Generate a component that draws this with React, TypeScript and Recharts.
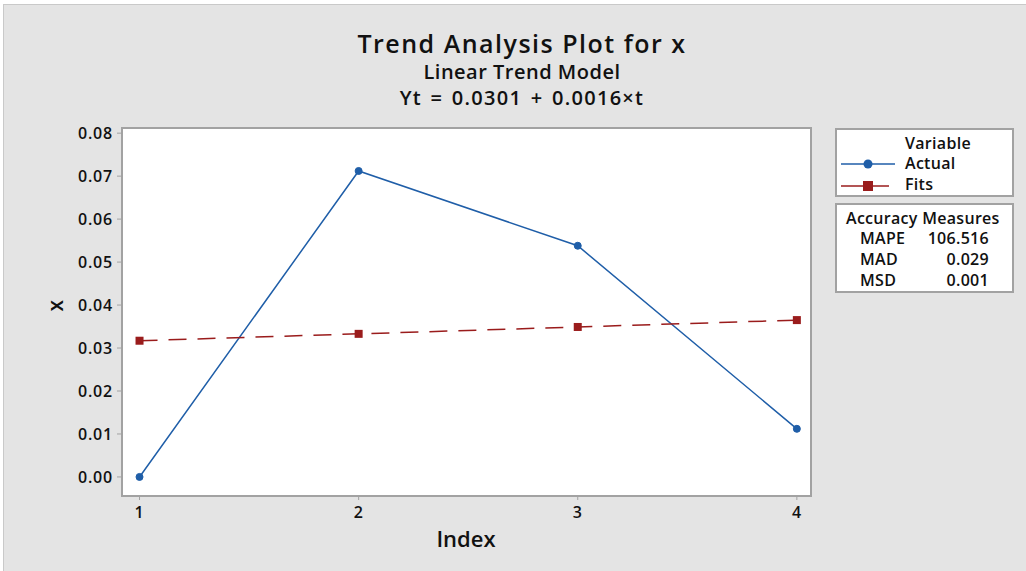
import { LineChart, Line, XAxis, YAxis, Legend, Label } from 'recharts'

// values
const index = [1, 2, 3, 4]
const actual = [0.0, 0.0712, 0.0538, 0.0112]
const fits = [0.0317, 0.0333, 0.0349, 0.0365]
const yTicks = [0, 0.01, 0.02, 0.03, 0.04, 0.05, 0.06, 0.07, 0.08]
const accuracyNames = ['MAPE', 'MAD', 'MSD']
const accuracyValues = ['106.516', '0.029', '0.001']

const data = index.map((t, i) => ({ t, actual: actual[i], fits: fits[i] }))

const BLUE = '#1f5ea8'
const RED = '#9a1c1c'
const GRAY = '#e4e4e4'
const BORDER = '#a2a2a2'
const FONT = '"Open Sans", "Noto Sans", sans-serif'

const SquareDot = (props: any) => {
  const { cx, cy } = props
  if (cx == null || cy == null) return null
  return <rect x={cx - 4} y={cy - 4} width={8} height={8} fill={RED} />
}

const LegendBoxes = () => {
  const txt = { fontFamily: FONT, fontSize: 16, fontWeight: 600, color: '#111', lineHeight: '18px', letterSpacing: 0.3 }
  return (
    <div style={{ position: 'relative', width: 180, height: 166 }}>
      <div style={{ position: 'absolute', left: 0, top: 0, width: 179, height: 69, boxSizing: 'border-box', border: `2px solid ${BORDER}`, background: '#fff' }}>
        <div style={{ ...txt, position: 'absolute', left: 68, top: 4 }}>Variable</div>
        <svg style={{ position: 'absolute', left: 4, top: 24 }} width={56} height={40}>
          <line x1={0} y1={10} x2={54} y2={10} stroke={BLUE} strokeWidth={1.5} />
          <circle cx={27} cy={10} r={4.5} fill={BLUE} />
          <line x1={0} y1={32} x2={48} y2={32} stroke={RED} strokeWidth={1.5} />
          <rect x={22} y={27} width={10} height={10} fill={RED} />
        </svg>
        <div style={{ ...txt, position: 'absolute', left: 68, top: 24 }}>Actual</div>
        <div style={{ ...txt, position: 'absolute', left: 68, top: 45 }}>Fits</div>
      </div>
      <div style={{ position: 'absolute', left: 0, top: 75, width: 179, height: 90, boxSizing: 'border-box', border: `2px solid ${BORDER}`, background: '#fff' }}>
        <div style={{ ...txt, position: 'absolute', left: 9, top: 4, whiteSpace: 'nowrap' }}>Accuracy Measures</div>
        {accuracyNames.map((n, i) => (
          <div key={n}>
            <div style={{ ...txt, position: 'absolute', left: 23, top: 24 + i * 21 }}>{n}</div>
            <div style={{ ...txt, position: 'absolute', right: 23, top: 24 + i * 21 }}>{accuracyValues[i]}</div>
          </div>
        ))}
      </div>
    </div>
  )
}

export default function App() {
  const tick = { fontFamily: FONT, fontSize: 16, fontWeight: 600, fill: '#111', letterSpacing: 0.8 }
  const title = { position: 'absolute' as const, left: 0, width: 1044, textAlign: 'center' as const, fontFamily: FONT, color: '#111', whiteSpace: 'nowrap' as const }
  return (
    <div style={{ position: 'absolute', left: 0, top: 0, width: 1026, height: 571, background: '#fff', overflow: 'hidden' }}>
      <div style={{ position: 'absolute', left: 3, top: 4, right: 0, bottom: 0, background: GRAY, borderTop: '1px solid #c9c9c9', borderLeft: '1px solid #c9c9c9' }} />
      <div style={{ ...title, top: 27, fontSize: 25, fontWeight: 600, lineHeight: '32px', letterSpacing: 1.5 }}>Trend Analysis Plot for x</div>
      <div style={{ ...title, top: 59, fontSize: 20, fontWeight: 600, lineHeight: '26px', letterSpacing: 0.5 }}>Linear Trend Model</div>
      <div style={{ ...title, top: 85, fontSize: 20, fontWeight: 600, lineHeight: '26px', letterSpacing: 1.3, wordSpacing: 2 }}>Yt = 0.0301 + 0.0016×t</div>
      <div style={{ position: 'absolute', left: 121, top: 127, width: 691, height: 370, boxSizing: 'border-box', border: `2px solid ${BORDER}`, background: '#fff' }} />
      <div style={{ position: 'absolute', left: 0, top: 0 }}>
        <LineChart width={1026} height={571} data={data} margin={{ top: 128, right: 216, bottom: 21, left: 52 }}>
          <XAxis
            dataKey="t"
            type="number"
            domain={[0.92, 4.06]}
            ticks={index}
            allowDataOverflow
            height={55}
            axisLine={false}
            tickSize={5}
            tickMargin={7}
            tickLine={{ stroke: BORDER }}
            tick={tick}
          >
            <Label value="Index" position="insideBottom" offset={3} style={{ fontFamily: FONT, fontSize: 22, fontWeight: 600, fill: '#111' }} />
          </XAxis>
          <YAxis
            type="number"
            domain={[-0.0042, 0.0812]}
            ticks={yTicks}
            allowDataOverflow
            width={70}
            axisLine={false}
            tickSize={5}
            tickMargin={4}
            tickLine={{ stroke: BORDER }}
            tick={tick}
            tickFormatter={(v: number) => v.toFixed(2)}
          >
            <Label value="x" angle={-90} position="insideLeft" offset={4} style={{ fontFamily: FONT, fontSize: 21, fontWeight: 600, fill: '#111' }} />
          </YAxis>
          <Legend
            layout="vertical"
            align="center"
            verticalAlign="middle"
            content={<LegendBoxes />}
            wrapperStyle={{ left: 835, top: 128, width: 180 }}
          />
          <Line
            dataKey="actual"
            name="Actual"
            stroke={BLUE}
            strokeWidth={1.5}
            dot={{ r: 3.5, fill: BLUE, stroke: BLUE, strokeWidth: 1 }}
            activeDot={false}
            isAnimationActive={false}
          />
          <Line
            dataKey="fits"
            name="Fits"
            stroke={RED}
            strokeWidth={1.5}
            strokeDasharray="18 11"
            dot={<SquareDot />}
            activeDot={false}
            isAnimationActive={false}
          />
        </LineChart>
      </div>
    </div>
  )
}
